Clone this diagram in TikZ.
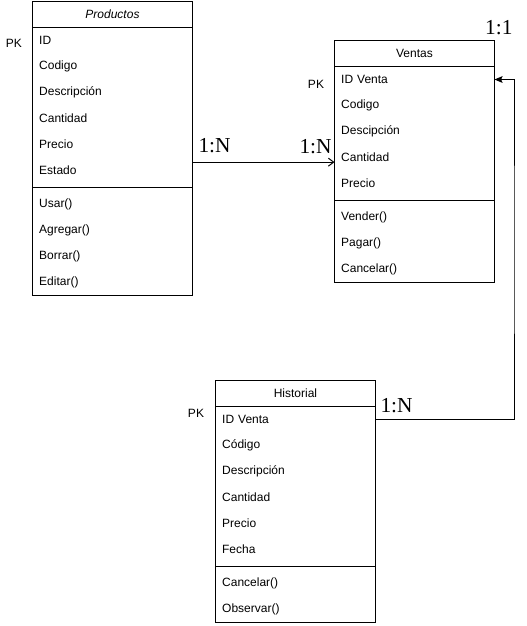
\documentclass[tikz,border=0pt]{standalone}
\usepackage{fontspec}
\setmainfont{Liberation Sans}
\newfontfamily\cardfont{Liberation Serif}
\usetikzlibrary{arrows.meta,matrix,positioning}

\begin{document}
\begin{tikzpicture}[x=0.75pt,y=-0.75pt
  ,line width=0.75pt
  ,font=\fontsize{9}{11}\selectfont]
  \tikzstyle{clase}=[draw,inner sep=0pt,row sep=0pt,anchor=north west]
  \tikzstyle{fila}=[minimum width=120pt,text width=110pt,outer sep=0pt,
  inner xsep=5pt,inner ysep=0pt,minimum height=19.5pt,align=left]
  \tikzstyle{titulo}=[fila,align=center]
  \tikzstyle{raya}=[minimum width=120pt,minimum height=6pt,inner sep=0pt,
  outer sep=0pt]
  \tikzstyle{pk}=[inner sep=0pt]
  \tikzstyle{card}=[font=\cardfont\fontsize{16}{19}\selectfont,inner sep=0pt]

  \useasboundingbox (0,0) rectangle (526,626);

  % Productos
  \matrix (prod) [clase] at (32,1)
  {
    \node[titulo](ptit) {\textit{Productos}};\\
    \node[fila](pid) {ID};\\
    \node[fila](pcod) {Codigo};\\
    \node[fila](pdes) {Descripción};\\
    \node[fila](pcant) {Cantidad};\\
    \node[fila](pprec) {Precio};\\
    \node[fila](pest) {Estado};\\
    \node[raya](psep) {};\\
    \node[fila](pusar) {Usar()};\\
    \node[fila](pagre) {Agregar()};\\
    \node[fila](pborr) {Borrar()};\\
    \node[fila](pedit) {Editar()};\\
  };

  % Ventas
  \matrix (vent) [clase] at (334,40)
  {
    \node[titulo](vtit) {Ventas};\\
    \node[fila](vid) {ID Venta};\\
    \node[fila](vcod) {Codigo};\\
    \node[fila](vdes) {Descipción};\\
    \node[fila](vcant) {Cantidad};\\
    \node[fila](vprec) {Precio};\\
    \node[raya](vsep) {};\\
    \node[fila](vvend) {Vender()};\\
    \node[fila](vpag) {Pagar()};\\
    \node[fila](vcanc) {Cancelar()};\\
  };

  % Historial
  \matrix (hist) [clase] at (215,380)
  {
    \node[titulo](htit) {Historial};\\
    \node[fila](hid) {ID Venta};\\
    \node[fila](hcod) {Código};\\
    \node[fila](hdes) {Descripción};\\
    \node[fila](hcant) {Cantidad};\\
    \node[fila](hprec) {Precio};\\
    \node[fila](hfech) {Fecha};\\
    \node[raya](hsep) {};\\
    \node[fila](hcanc) {Cancelar()};\\
    \node[fila](hobs) {Observar()};\\
  };

  \draw (ptit.south west) -- (ptit.south east)
  (psep.west) -- (psep.east);
  \draw (vtit.south west) -- (vtit.south east)
  (vsep.west) -- (vsep.east);
  \draw (htit.south west) -- (htit.south east)
  (hsep.west) -- (hsep.east);

  \node[pk] (ppk) at (14,43) {PK};
  \node[pk] (vpk) at (316,84) {PK};
  \node[pk] (hpk) at (196,413) {PK};

  \coordinate (giro) at (514,250);
  \coordinate (llega) at ([yshift=-3.5pt]vcant.west);
  \draw[-{Straight Barb[length=4pt,width=6pt]}]
  (prod.east |- llega) -- (llega);
  \draw[-{Stealth[length=6pt,width=5pt,inset=1pt]}]
  (hid.east) -| (giro) |- (vid.east);

  \node[card,anchor=south west] (c1) at (198,153) {1:N};
  \node[card,anchor=south east] (c2) at (332,154) {1:N};
  \node[card,anchor=south east] (c3) at (513,35) {1:1};
  \node[card,anchor=south west] (c4) at (380,413) {1:N};
\end{tikzpicture}
\end{document}
